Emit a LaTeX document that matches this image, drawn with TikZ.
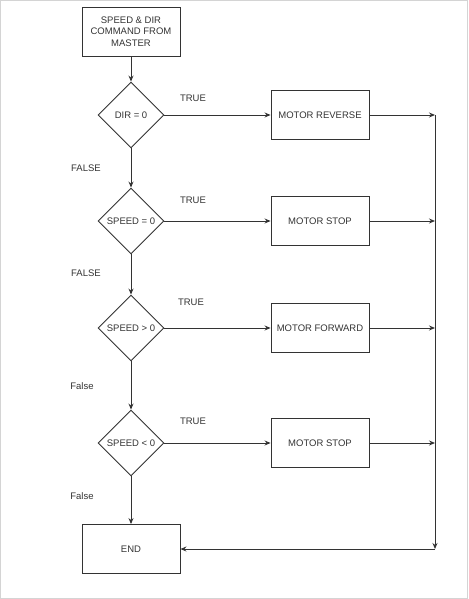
\documentclass[tikz,border=0pt]{standalone}
\usepackage{fontspec}
\setmainfont{Liberation Sans}
\usetikzlibrary{shapes.geometric,arrows.meta}
\definecolor{linegray}{HTML}{333333}
\definecolor{framegray}{HTML}{D4D4D4}
\tikzset{
  box/.style={draw=linegray,line width=0.9pt,rectangle,minimum width=98pt,minimum height=49pt,inner sep=0pt,align=center,text=linegray},
  decision/.style={draw=linegray,line width=0.9pt,diamond,minimum width=66pt,minimum height=66pt,inner sep=0pt,text=linegray},
  flow/.style={draw=linegray,line width=0.9pt,-{Stealth[length=6pt,width=5pt]}},
  plain/.style={draw=linegray,line width=0.9pt},
  lbl/.style={text=linegray,inner sep=0pt},
}
\begin{document}
\begin{tikzpicture}[x=1pt,y=-1pt,font=\fontsize{9.5}{11.3}\selectfont]
\draw[framegray] (0.5,0.5) rectangle (467.5,598.5);
\useasboundingbox (0,0) rectangle (468,599);
% left column
\node[box] (cmd) at (131,31.5) {SPEED \& DIR\\COMMAND FROM\\MASTER};
\node[decision] (dir) at (131,115) {DIR = 0};
\node[decision] (zero) at (131,221) {SPEED = 0};
\node[decision] (pos) at (131,328) {SPEED > 0};
\node[decision] (neg) at (131,443) {SPEED < 0};
\node[box] (end) at (131,549) {END};
% right column
\node[box] (rev) at (320,115) {MOTOR REVERSE};
\node[box] (stopa) at (320,221) {MOTOR STOP};
\node[box] (fwd) at (320,328) {MOTOR FORWARD};
\node[box] (stopb) at (320,443) {MOTOR STOP};
\coordinate (ja) at (435,115);
\coordinate (jb) at (435,221);
\coordinate (jc) at (435,328);
\coordinate (jd) at (435,443);
\coordinate (je) at (435,549);
% labels
\node[lbl] (ta) at (193,98) {TRUE};
\node[lbl] (tb) at (193,200) {TRUE};
\node[lbl] (tc) at (191,302) {TRUE};
\node[lbl] (td) at (193,421) {TRUE};
\node[lbl] (fa) at (86,168) {FALSE};
\node[lbl] (fb) at (86,273) {FALSE};
\node[lbl] (fc) at (82,386) {False};
\node[lbl] (fd) at (82,496) {False};
% connectors
\draw[flow] (cmd) -- (dir);
\draw[flow] (dir) -- (zero);
\draw[flow] (zero) -- (pos);
\draw[flow] (pos) -- (neg);
\draw[flow] (neg) -- (end);
\draw[flow] (dir) -- (rev);
\draw[flow] (zero) -- (stopa);
\draw[flow] (pos) -- (fwd);
\draw[flow] (neg) -- (stopb);
\draw[flow] (rev) -- (ja);
\draw[flow] (stopa) -- (jb);
\draw[flow] (fwd) -- (jc);
\draw[flow] (stopb) -- (jd);
\draw[flow] (ja) -- (je);
\draw[flow] (je) -- (end);
\end{tikzpicture}
\end{document}
